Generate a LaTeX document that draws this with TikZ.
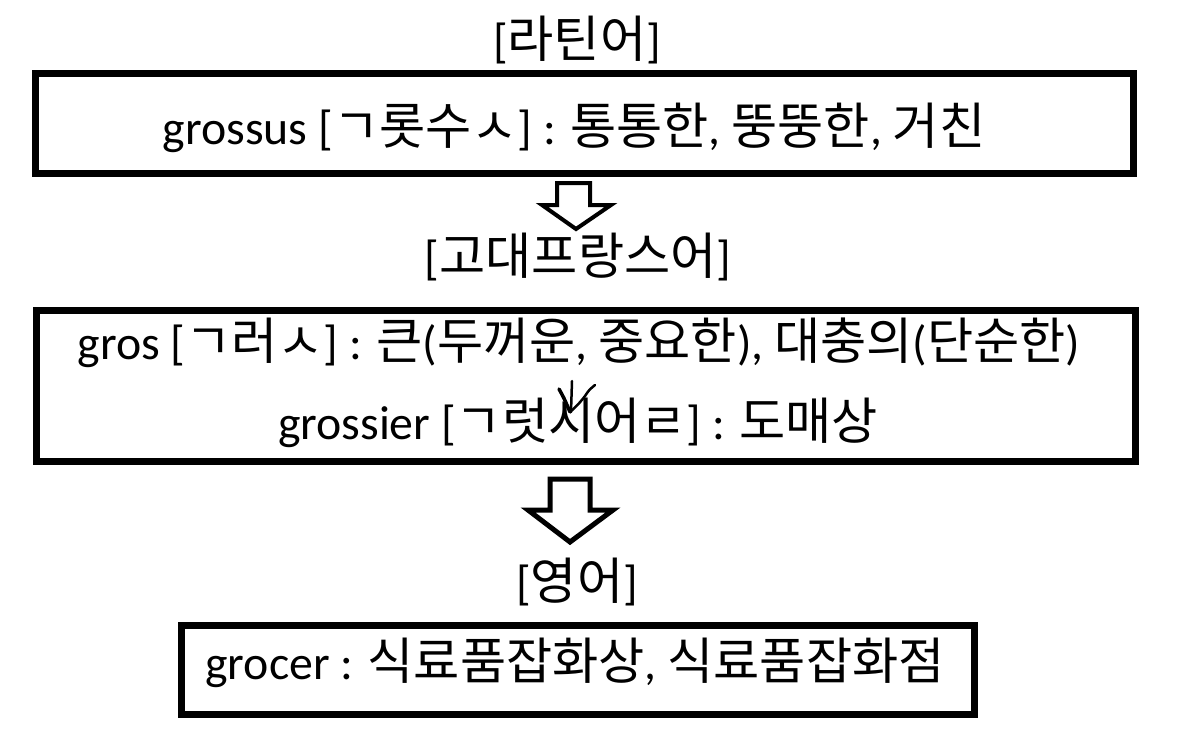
\documentclass[tikz,border=0pt]{standalone}
\usepackage{fontspec}
\setmainfont{Carlito}
\newfontfamily\kr[Scale=1.05]{Noto Sans CJK KR}
\newcommand{\K}[1]{{\kr #1}}
\begin{document}
\begin{tikzpicture}[x=1pt,y=-1pt,
  txt/.style={inner sep=0pt,font=\fontsize{47.8}{52}\selectfont,anchor=center},
  frame/.style={draw=black,line width=7pt,fill=white},
  blockarrow/.style={draw=black,fill=white,line join=miter},
  hand/.style={draw=black,line width=2.5pt,line cap=round,line join=round}]
\useasboundingbox (0,0) rectangle (1178,748);
% boxes
\draw[frame] (35.5,73.5) rectangle (1133.5,173.5);
\draw[frame] (36.5,310) rectangle (1135,461);
\draw[frame] (181,625) rectangle (974,714);
% titles
\node[txt] (t1) at (577,40) {[\K{라틴어}]};
\node[txt] (t2) at (578,257) {[\K{고대프랑스어}]};
\node[txt] (t3) at (577,582) {[\K{영어}]};
% texts
\node[txt] (b1) at (574,128) {grossus [\K{ㄱ롯수ㅅ}] : \K{통통한}, \K{뚱뚱한}, \K{거친}};
\node[txt] (b2a) at (579,343) {gros [\K{ㄱ러ㅅ}] : \K{큰}(\K{두꺼운}, \K{중요한}), \K{대충의}(\K{단순한})};
\node[txt] (b2b) at (578,423) {grossier [\K{ㄱ럿시어ㄹ}] : \K{도매상}};
\node[txt] (b3) at (575,663) {grocer : \K{식료품잡화상}, \K{식료품잡화점}};
% block arrows
\draw[blockarrow,line width=4pt] (557,183) -- (590,183) -- (590,205) -- (611,205) -- (576,229) -- (542,205) -- (557,205) -- cycle;
\draw[blockarrow,line width=5pt] (550,479) -- (590,479) -- (590,510) -- (613,510) -- (570,542) -- (528,510) -- (550,510) -- cycle;
% hand drawn arrow
\draw[hand] (572,381) -- (571,412);
\draw[hand,line width=3.5pt] (559,389) .. controls (564,398) .. (570,412);
\draw[hand] (570,412) .. controls (578,405) and (582,400) .. (585,396) .. controls (589,390) .. (595,385);
\end{tikzpicture}
\end{document}
